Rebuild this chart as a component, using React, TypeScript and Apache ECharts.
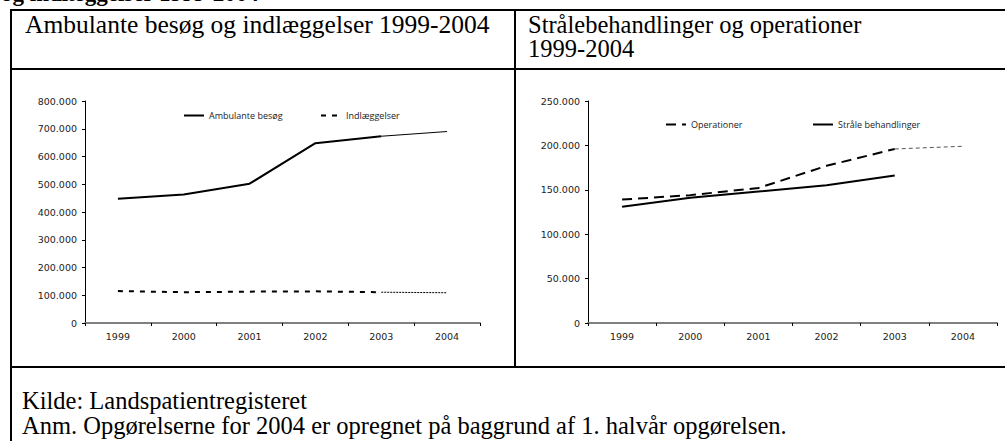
import React, { useEffect, useRef } from "react";
import * as echarts from "echarts";

const years = ["1999", "2000", "2001", "2002", "2003", "2004"];
const ambulante = [448000, 463000, 502000, 648000, 673000, 690000];
const indlaeggelser = [115000, 111000, 113000, 114000, 111000, 109000];
const operationer = [139000, 144000, 152000, 177000, 196000, 199000];
const straale = [131000, 141000, 148000, 155000, 166000, null];

const leftMax = 800000;
const leftInterval = 100000;
const rightMax = 250000;
const rightInterval = 50000;

const topHeading = "og indlæggelser 1999-2004";
const leftTitle = "Ambulante besøg og indlæggelser 1999-2004";
const rightTitle = "Strålebehandlinger og operationer\n1999-2004";
const note1 = "Kilde: Landspatientregisteret";
const note2 = "Anm. Opgørelserne for 2004 er opregnet på baggrund af 1. halvår opgørelsen.";

const LAST_ACTUAL = 4;
const actual = (arr: (number | null)[]) => arr.map((v, i) => (i <= LAST_ACTUAL ? v : null));
const projected = (arr: (number | null)[]) => arr.map((v, i) => (i >= LAST_ACTUAL ? v : null));

const fmt = (v: number) => String(v).replace(/\B(?=(\d{3})+(?!\d))/g, ".");

const SANS = "Open Sans";
const AXIS_FONT = "DejaVu Sans";
const SERIF = "Liberation Serif";

function yAxis(gridIndex: number, max: number, interval: number) {
  return {
    type: "value",
    gridIndex,
    min: 0,
    max,
    interval,
    splitLine: { show: false },
    axisLine: { show: true, lineStyle: { color: "#000", width: 1 } },
    axisTick: { show: true, length: 3, lineStyle: { color: "#000" } },
    axisLabel: { formatter: (v: number) => fmt(v), fontFamily: AXIS_FONT, fontSize: 9.5, color: "#222", margin: 8 },
  };
}

function xAxis(gridIndex: number) {
  return {
    type: "category",
    gridIndex,
    data: years,
    boundaryGap: true,
    axisLine: { show: true, lineStyle: { color: "#808080", width: 2 } },
    axisTick: { show: true, length: 3, lineStyle: { color: "#000" } },
    axisLabel: { fontFamily: AXIS_FONT, fontSize: 9.5, color: "#222", margin: 8 },
  };
}

function line(name: string, idx: number, data: (number | null)[], width: number, type: any, color = "#000") {
  return {
    type: "line",
    name,
    xAxisIndex: idx,
    yAxisIndex: idx,
    data,
    symbol: "none",
    showSymbol: false,
    silent: true,
    lineStyle: { color, width, type },
    itemStyle: { color },
  };
}

const legendBase = {
  itemWidth: 20,
  itemHeight: 10,
  itemGap: 0,
  padding: 0,
  itemStyle: { opacity: 0 },
  textStyle: { fontFamily: SANS, fontSize: 9, color: "#222" },
  selectedMode: false,
};

export default function App() {
  const ref = useRef<HTMLDivElement>(null);
  useEffect(() => {
    if (!ref.current) return;
    const chart = echarts.init(ref.current, null, { renderer: "svg" });
    const lineCol = (x1: number, y1: number, x2: number, y2: number, w = 2) => ({
      type: "line",
      z: 100,
      shape: { x1, y1, x2, y2 },
      style: { stroke: "#000", lineWidth: w },
    });
    const serifText = (x: number, y: number, text: string, size = 24, weight: any = "normal", lh?: number) => ({
      type: "text",
      z: 100,
      x,
      y,
      style: {
        text,
        fill: "#000",
        fontFamily: SERIF,
        fontSize: size,
        fontWeight: weight,
        lineHeight: lh ?? size,
        textAlign: "left",
        textVerticalAlign: lh ? "top" : "middle",
      },
    });
    chart.setOption({
      animation: false,
      backgroundColor: "#fff",
      grid: [
        { left: 85, top: 101, width: 395, height: 222 },
        { left: 588, top: 101, width: 409, height: 222 },
      ],
      xAxis: [xAxis(0), xAxis(1)],
      yAxis: [yAxis(0, leftMax, leftInterval), yAxis(1, rightMax, rightInterval)],
      legend: [
        { ...legendBase, data: ["Ambulante besøg"], left: 183, top: 111 },
        { ...legendBase, data: ["Indlæggelser"], left: 320, top: 111 },
        { ...legendBase, data: ["Operationer"], left: 665, top: 120 },
        { ...legendBase, data: ["Stråle behandlinger"], left: 812, top: 120 },
      ],
      series: [
        line("Ambulante besøg", 0, actual(ambulante), 2, "solid"),
        line("Ambulante besøg (2004)", 0, projected(ambulante), 1, "solid"),
        line("Indlæggelser", 0, actual(indlaeggelser), 2, [5, 6]),
        line("Indlæggelser (2004)", 0, projected(indlaeggelser), 1, [2, 1]),
        line("Operationer", 1, actual(operationer), 2, [10, 6]),
        line("Operationer (2004)", 1, projected(operationer), 1, [4, 3], "#555"),
        line("Stråle behandlinger", 1, actual(straale), 2, "solid"),
      ],
      graphic: [
        serifText(1, -7, topHeading, 23, "bold"),
        lineCol(10, 10, 1005, 10),
        lineCol(11, 9, 11, 441),
        lineCol(10, 69, 1005, 69),
        lineCol(515, 9, 515, 367),
        lineCol(10, 367, 1005, 367),
        serifText(25, 24, leftTitle, 25.5),
        serifText(528, 12, rightTitle, 24.5, "normal", 24.5),
        serifText(22, 400, note1, 24.5),
        serifText(22, 425, note2, 24.5),
      ],
    });
    return () => chart.dispose();
  }, []);
  return (
    <div
      ref={ref}
      style={{ position: "fixed", left: 0, top: 0, width: 1005, height: 441, background: "#fff" }}
    />
  );
}
